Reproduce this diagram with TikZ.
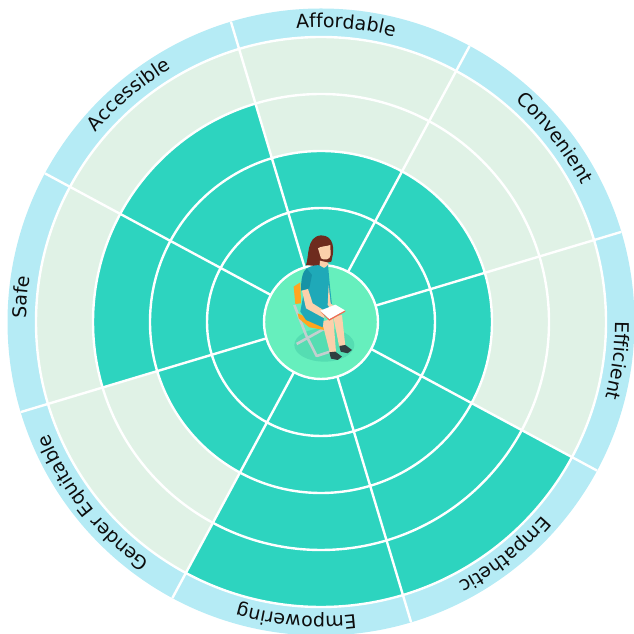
\documentclass[tikz,border=0pt]{standalone}
\usepackage{fontspec}
\setmainfont{DejaVu Sans}
\usetikzlibrary{decorations.text}
\definecolor{band}{HTML}{B5EBF5}
\definecolor{lightcell}{HTML}{E0F2E6}
\definecolor{darkcell}{HTML}{2DD4BF}
\definecolor{hub}{HTML}{66EFBD}
\definecolor{shadowc}{HTML}{55DDB2}
\definecolor{dress}{HTML}{1FA9B8}
\definecolor{sleeve}{HTML}{1693A6}
\definecolor{hair}{HTML}{6E2B1E}
\definecolor{skin}{HTML}{FBD0AB}
\definecolor{chairleg}{HTML}{C3CFCF}
\definecolor{chairseat}{HTML}{FFA51F}
\definecolor{shoe}{HTML}{2F3F40}
\definecolor{bookedge}{HTML}{EE6A50}
\tikzset{
  x=1pt,y=1pt,
  sep/.style={draw=white,line width=2.4pt},
  curved/.style={decorate,decoration={text along path,text align=center,
     text={|\fontsize{19}{19}\selectfont\color{black!95}|#1}}}
}
\newcommand{\cellfill}[3]{% start angle, radius, colour
  \fill[#3] (#1:0) -- (#1:#2) arc[start angle=#1,end angle=#1+45,radius=#2] -- cycle;}
\newcommand{\arclabel}[2]{% centre angle, text
  \path[curved={#2}] (#1+25:294.5) arc[start angle=#1+25,end angle=#1-25,radius=294.5];}
\begin{document}
\begin{tikzpicture}
\useasboundingbox (0,0) rectangle (633,634);
\begin{scope}[shift={(321,312)}]
  \fill[band] (0,0) circle[radius=313.5];
  \fill[lightcell] (0,0) circle[radius=285];
  \cellfill{61.7}{171}{darkcell}
  \cellfill{16.7}{171}{darkcell}
  \cellfill{-28.3}{171}{darkcell}
  \cellfill{-73.3}{285}{darkcell}
  \cellfill{-118.3}{285}{darkcell}
  \cellfill{-163.3}{171}{darkcell}
  \cellfill{151.7}{228}{darkcell}
  \cellfill{106.7}{228}{darkcell}
  \foreach \r in {114,171,228,285} {\draw[sep] (0,0) circle[radius=\r];}
  \foreach \a in {16.7,61.7,106.7,151.7,196.7,241.7,286.7,331.7} {\draw[sep] (\a:57) -- (\a:313.5);}
  \fill[hub,draw=white,line width=2.4pt] (0,0) circle[radius=57];
  \arclabel{85.2}{Affordable}
  \arclabel{38.2}{Convenient}
  \arclabel{-7.4}{Efficient}
  \arclabel{-51.7}{Empathetic}
  \arclabel{-94.8}{Empowering}
  \arclabel{-141.6}{Gender Equitable}
  \arclabel{175.2}{Safe}
  \arclabel{130.2}{Accessible}
\end{scope}
\begin{scope}[shift={(256,414)},x=0.3333pt,y=-0.3333pt]
  \fill[shadowc] (205,375) ellipse[x radius=90,y radius=50];
  % chair
  \draw[chairleg,line width=2.6pt,line join=round] (115,255) -- (150,345) -- (182,408) -- (222,395);
  \draw[chairleg,line width=2.6pt] (122,372) -- (207,325);
  \fill[chairseat] (113,200) -- (133,187) -- (135,250) -- (118,252) -- cycle;
  \fill[chairseat] (125,280) -- (205,315) -- (205,330) -- (160,322) -- (128,295) -- cycle;
  % hair back
  \fill[hair] (150,135) .. controls (160,110) and (150,50) .. (195,46) .. controls (235,46) and (235,90) .. (228,115) -- (226,125) -- (205,130) -- (195,140) -- cycle;
  % legs
  \fill[skin] (198,305) -- (232,295) -- (240,395) -- (222,400) -- cycle;
  \fill[skin] (232,290) -- (258,285) -- (268,378) -- (250,382) -- cycle;
  % shoes
  \fill[shoe] (220,397) -- (238,395) -- (258,410) -- (245,420) -- (225,416) -- cycle;
  \fill[shoe] (250,378) -- (268,375) -- (288,390) -- (275,400) -- (254,395) -- cycle;
  % neck and face
  \fill[skin] (192,122) -- (217,128) -- (217,140) -- (190,145) -- cycle;
  \fill[skin] (186,85) .. controls (195,78) and (210,80) .. (223,75) -- (224,105) .. controls (222,120) and (205,122) .. (195,115) -- cycle;
  % dress
  \fill[dress] (152,145) .. controls (170,135) and (185,135) .. (190,136) -- (205,145) -- (216,135) -- (222,200) -- (228,255) -- (205,285) -- (200,322) -- (150,300) -- (133,275) -- (142,225) -- (137,190) -- cycle;
  \fill[sleeve] (152,145) .. controls (140,155) and (135,175) .. (135,212) -- (160,205) -- (168,165) -- cycle;
  % arms
  \fill[skin] (138,212) -- (156,207) -- (170,250) -- (205,272) -- (205,295) -- (150,265) -- cycle;
  \fill[skin] (218,195) -- (224,250) -- (236,262) -- (225,268) -- (215,255) -- cycle;
  % book
  \fill[bookedge] (193,275) -- (220,302) -- (268,275) -- (267,270) -- (220,296) -- cycle;
  \fill[white] (193,272) -- (238,254) -- (267,271) -- (220,297) -- cycle;
\end{scope}
\end{tikzpicture}
\end{document}
